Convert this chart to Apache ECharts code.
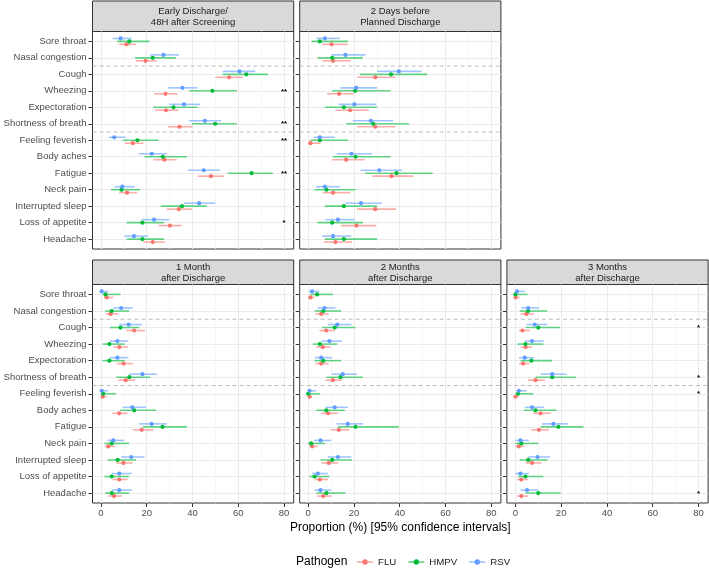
<!DOCTYPE html>
<html><head><meta charset="utf-8">
<script src="https://cdn.jsdelivr.net/npm/echarts@6/dist/echarts.min.js"></script>
<style>html,body{margin:0;padding:0;background:#fff}#c{width:709px;height:569px}</style>
</head><body><div id="c"></div>
<script>
const SYMPTOMS = ['Sore throat','Nasal congestion','Cough','Wheezing','Expectoration','Shortness of breath','Feeling feverish','Body aches','Fatigue','Neck pain','Interrupted sleep','Loss of appetite','Headache'];
const PATHOGENS = ['FLU','HMPV','RSV'];
const PANEL_TITLES = ['Early Discharge/\n48H after Screening','2 Days before\nPlanned Discharge','1 Month\nafter Discharge','2 Months\nafter Discharge','3 Months\nafter Discharge'];
const X_TICKS = [0,20,40,60,80];
const X_MINOR = [10,30,50,70];

// [estimate, lower, upper] per symptom (same order as SYMPTOMS)
const early_FLU = [[11.2,8.0,15.3],[19.5,15.2,24.4],[56.0,50.0,62.0],[28.2,23.2,33.4],[28.4,23.6,33.8],[34.3,29.3,40.0],[13.9,10.4,18.5],[27.7,22.9,33.1],[48.0,42.2,53.8],[11.4,8.0,15.8],[34.0,28.7,39.7],[30.1,25.1,35.3],[22.6,18.5,28.0]];
const early_HMPV = [[12.4,7.1,21.2],[22.6,14.9,32.7],[63.5,53.1,72.9],[48.7,38.5,59.4],[31.7,22.9,42.2],[49.9,39.7,59.4],[15.9,9.5,25.1],[27.0,19.0,37.6],[65.8,55.3,75.1],[9.0,4.4,17.1],[35.4,26.1,46.2],[18.1,11.2,27.6],[18.1,11.2,27.6]];
const early_RSV = [[8.6,5.1,13.4],[27.3,21.4,34.1],[60.5,53.2,67.4],[35.6,29.2,42.3],[36.3,29.8,43.3],[45.4,38.4,52.5],[5.8,3.5,10.8],[22.2,16.6,28.7],[44.9,37.9,52.1],[9.3,6.0,14.7],[42.9,36.3,49.9],[23.2,17.8,29.8],[14.4,10.2,20.4]];

const pre_FLU = [[10.2,6.1,17.3],[10.9,6.4,18.5],[29.3,21.4,38.1],[13.5,8.3,19.9],[18.3,11.9,26.5],[29.3,21.4,38.1],[1.0,0.0,5.4],[16.6,10.5,24.7],[36.4,27.9,45.9],[10.9,6.4,18.5],[29.3,21.4,38.4],[21.1,14.4,29.7],[11.9,6.8,19.2]];
const pre_HMPV = [[5.1,1.5,17.3],[10.5,4.1,23.9],[36.2,22.6,52.0],[20.5,10.5,36.0],[15.6,7.3,30.1],[28.4,16.6,44.0],[5.1,1.0,17.3],[20.7,10.8,36.0],[38.6,25.0,54.4],[8.0,2.8,20.7],[15.6,7.3,30.1],[10.5,4.1,23.9],[15.6,7.3,30.1]];
const pre_RSV = [[7.3,3.5,13.8],[16.3,10.2,25.0],[39.6,30.1,49.5],[21.0,14.1,30.1],[20.2,13.4,29.8],[27.4,19.5,37.1],[5.1,2.5,11.6],[18.9,12.5,27.9],[31.1,22.9,41.0],[7.3,3.5,13.8],[23.1,16.3,32.3],[13.0,7.6,20.4],[10.9,6.1,18.8]];

const m1_FLU = [[2.5,1.3,5.4],[4.2,2.2,7.6],[14.5,11.0,19.3],[8.0,5.4,11.7],[9.9,6.9,13.9],[10.8,7.6,14.9],[0.7,0.0,2.5],[8.0,5.1,11.7],[17.8,13.9,23.0],[3.2,1.8,6.1],[9.8,6.6,13.9],[8.0,5.1,11.7],[5.7,3.2,9.1]];
const m1_HMPV = [[2.0,0.6,8.6],[4.7,1.8,12.3],[8.5,3.9,16.7],[3.7,0.7,10.4],[3.7,0.7,10.4],[12.4,6.6,21.5],[1.0,0.0,6.6],[14.5,8.3,24.1],[26.9,18.3,37.6],[4.7,1.5,12.3],[7.3,2.9,15.4],[4.7,1.5,12.3],[4.7,1.8,12.3]];
const m1_RSV = [[0.3,0.0,3.2],[8.8,5.4,13.9],[12.1,8.0,17.8],[7.2,3.9,12.0],[7.2,3.9,12.0],[18.1,12.3,24.4],[0.3,0.0,3.2],[13.7,9.4,19.7],[22.1,16.7,28.8],[5.4,2.8,10.1],[13.2,8.8,19.0],[8.0,4.7,13.5],[8.0,4.7,13.5]];

const m2_FLU = [[1.0,0.3,2.9],[5.7,3.2,9.0],[7.9,4.9,11.6],[6.4,3.6,9.8],[5.7,3.2,9.0],[10.8,7.6,14.8],[0.6,0.0,1.7],[8.7,5.7,13.1],[13.4,9.8,18.0],[1.7,0.6,4.2],[9.0,5.8,13.1],[5.1,2.8,8.7],[6.6,3.9,10.2]];
const m2_HMPV = [[3.9,1.0,10.9],[6.6,2.8,14.4],[11.6,6.1,20.7],[5.1,2.0,12.7],[6.6,2.8,14.4],[14.1,8.0,23.9],[0.0,0.0,5.1],[7.9,3.6,16.0],[20.7,13.0,39.6],[1.3,0.0,7.3],[10.5,5.4,19.2],[2.8,0.6,9.3],[8.0,3.6,16.3]];
const m2_RSV = [[1.7,0.3,4.9],[7.1,4.1,11.9],[12.7,8.6,18.9],[9.3,5.8,14.8],[5.7,2.9,10.5],[15.1,10.2,21.4],[0.6,0.0,3.6],[11.6,7.6,17.3],[17.3,12.4,24.0],[5.4,2.5,10.0],[13.0,8.6,18.8],[4.2,1.7,8.6],[5.4,2.8,10.0]];

const m3_FLU = [[0.1,0.0,1.9],[4.8,2.3,8.2],[3.1,1.6,6.3],[4.5,2.3,7.3],[3.4,1.6,6.0],[8.8,5.6,12.9],[0.0,0.0,1.5],[11.0,7.8,15.5],[10.3,7.0,14.7],[1.5,0.0,4.1],[7.3,4.4,11.4],[2.6,0.7,5.6],[2.6,0.7,5.6]];
const m3_HMPV = [[0.0,0.0,5.3],[5.6,1.9,13.9],[10.0,4.4,19.5],[4.4,0.9,12.2],[7.0,2.3,16.1],[16.1,8.8,26.4],[1.2,0.0,7.8],[8.8,3.8,18.0],[18.8,11.1,29.7],[2.6,0.1,10.0],[5.6,1.9,14.1],[4.4,1.2,12.2],[10.0,4.4,19.8]];
const m3_RSV = [[0.7,0.0,4.1],[5.6,2.6,10.4],[8.5,4.8,13.9],[7.3,4.1,12.6],[4.1,1.6,8.2],[16.1,11.0,22.4],[1.5,0.4,4.8],[7.3,4.1,12.6],[16.6,11.7,22.9],[2.2,0.1,5.9],[9.7,5.6,15.1],[2.2,0.1,5.9],[5.1,2.3,10.0]];

// significance markers per symptom
const SIG_EARLY = ['','','','**','','**','**','','**','','','*',''];
const SIG_PRE = [];
const SIG_M1 = [];
const SIG_M2 = [];
const SIG_M3 = ['','','*','','','*','*','','','','','','*'];
const SIG_X = 80;
const GROUP_BREAKS = [1.5, 5.5];

const PANELS = [
  {title: PANEL_TITLES[0], FLU: early_FLU, HMPV: early_HMPV, RSV: early_RSV, sig: SIG_EARLY},
  {title: PANEL_TITLES[1], FLU: pre_FLU, HMPV: pre_HMPV, RSV: pre_RSV, sig: SIG_PRE},
  {title: PANEL_TITLES[2], FLU: m1_FLU, HMPV: m1_HMPV, RSV: m1_RSV, sig: SIG_M1},
  {title: PANEL_TITLES[3], FLU: m2_FLU, HMPV: m2_HMPV, RSV: m2_RSV, sig: SIG_M2},
  {title: PANEL_TITLES[4], FLU: m3_FLU, HMPV: m3_HMPV, RSV: m3_RSV, sig: SIG_M3}
];

// ---- styling / layout ----
const COLORS = {FLU:'#F8766D', HMPV:'#00BA38', RSV:'#619CFF'};
const DODGE = {FLU:0.18, HMPV:0, RSV:-0.18};
const FONT = '"Liberation Sans", Arial, sans-serif';
const COL_LEFT = [92.5, 299.7, 506.9];
const PW = 201.2;
const ROWS = [{top:31.5, height:217.5, stripTop:1}, {top:284.5, height:218.5, stripTop:260}];
const POS = [[0,0],[0,1],[1,0],[1,1],[1,2]];
const XMIN = -3.7, XMAX = 84.2, YMIN = -0.6, YMAX = 12.6;
const IDX = SYMPTOMS.map((s,i)=>i);

const chart = echarts.init(document.getElementById('c'), null, {renderer:'canvas'});

const grids = [], xAxes = [], xMinor = [], yAxes = [], series = [], graphics = [];

function pointRender(color, off){
  return function(params, api){
    const c = api.value(3) + off;
    const a = api.coord([api.value(1), c]);
    const b = api.coord([api.value(2), c]);
    const m = api.coord([api.value(0), c]);
    return {type:'group', children:[
      {type:'line', shape:{x1:a[0], y1:a[1], x2:b[0], y2:b[1]}, style:{stroke:color, lineWidth:1.6, opacity:0.6}},
      {type:'circle', shape:{cx:m[0], cy:m[1], r:2.1}, style:{fill:color}}
    ]};
  };
}

PANELS.forEach((p, i) => {
  const [r, c] = POS[i];
  const row = ROWS[r];
  const left = COL_LEFT[c];
  const bottomRow = r === 1;
  const firstCol = c === 0;
  grids.push({left:left, top:row.top, width:PW, height:row.height, show:true,
    borderColor:'#333333', borderWidth:1, backgroundColor:'rgba(0,0,0,0)'});
  xAxes.push({gridIndex:i, type:'value', min:XMIN, max:XMAX, position:'bottom',
    axisLine:{show:false, onZero:false},
    axisTick:{show:bottomRow, customValues:X_TICKS, length:4, lineStyle:{color:'#333333'}},
    axisLabel:{show:bottomRow, customValues:X_TICKS, color:'#4D4D4D', fontSize:9.5, fontFamily:FONT, margin:5},
    splitLine:{show:true, lineStyle:{color:'#EBEBEB', width:1}}});
  xMinor.push({gridIndex:i, type:'value', min:XMIN, max:XMAX, position:'top',
    axisLine:{show:false, onZero:false},
    axisTick:{show:false, customValues:X_MINOR},
    axisLabel:{show:false, customValues:X_MINOR},
    splitLine:{show:true, lineStyle:{color:'#F4F4F4', width:0.7}}});
  yAxes.push({gridIndex:i, type:'value', inverse:true, min:YMIN, max:YMAX, position:'left',
    axisLine:{show:false, onZero:false},
    axisTick:{show:true, customValues:IDX, length:4, lineStyle:{color:'#333333'}},
    axisLabel:{show:firstCol, customValues:IDX, formatter:(v)=>SYMPTOMS[Math.round(v)], color:'#4D4D4D', fontSize:9.5, fontFamily:FONT, margin:6},
    splitLine:{show:true, lineStyle:{color:'#EBEBEB', width:1.2}}});

  // group separators
  series.push({type:'custom', xAxisIndex:i, yAxisIndex:i, silent:true, z:1, clip:false,
    data: GROUP_BREAKS.map(b=>[0,b]), encode:{x:0, y:1},
    renderItem:(params, api)=>{
      const y = api.coord([0, api.value(1)])[1];
      const cs = params.coordSys;
      return {type:'line', shape:{x1:cs.x, y1:y, x2:cs.x+cs.width, y2:y},
        style:{stroke:'#BDBDBD', lineWidth:1, lineDash:[4,3]}};
    }});

  PATHOGENS.forEach(k => {
    series.push({type:'custom', name:k, xAxisIndex:i, yAxisIndex:i, z:3, clip:false,
      itemStyle:{color:COLORS[k]},
      data: p[k].map((d, j)=>[d[0], d[1], d[2], j]),
      encode:{x:[0,1,2], y:3},
      renderItem: pointRender(COLORS[k], DODGE[k])});
  });

  const sigs = p.sig.map((s,j)=>({s:s, j:j})).filter(o=>o.s);
  if (sigs.length){
    series.push({type:'custom', xAxisIndex:i, yAxisIndex:i, silent:true, z:4, clip:false,
      data: sigs.map(o=>[SIG_X, o.j]), encode:{x:0, y:1},
      renderItem:(params, api)=>{
        const pt = api.coord([api.value(0), api.value(1)]);
        return {type:'text', x:pt[0], y:pt[1]+0.5,
          style:{text:sigs[params.dataIndex].s, fill:'#000000', fontSize:8, fontWeight:'bold', fontFamily:FONT, align:'center', verticalAlign:'middle'}};
      }});
  }

  // strip
  const sTop = row.stripTop, sH = row.top - row.stripTop;
  graphics.push({type:'rect', shape:{x:left, y:sTop, width:PW, height:sH},
    style:{fill:'#D9D9D9', stroke:'#333333', lineWidth:1}});
  graphics.push({type:'text', x:left+PW/2, y:sTop+sH/2+0.5,
    style:{text:p.title, fill:'#1A1A1A', fontSize:9.5, fontFamily:FONT, align:'center', verticalAlign:'middle', lineHeight:11}});
});

graphics.push({type:'text', x:400.3, y:528, style:{text:'Proportion (%) [95% confidence intervals]', fill:'#000', fontSize:12, fontFamily:FONT, align:'center', verticalAlign:'middle'}});
graphics.push({type:'text', x:296, y:562, style:{text:'Pathogen', fill:'#000', fontSize:12, fontFamily:FONT, align:'left', verticalAlign:'middle'}});

const option = {
  animation:false,
  backgroundColor:'#ffffff',
  grid: grids,
  xAxis: xAxes.concat(xMinor),
  yAxis: yAxes,
  series: series,
  graphic: graphics,
  legend: {data: PATHOGENS, left:352, top:552, orient:'horizontal', itemWidth:16, itemHeight:10, itemGap:12,
    icon:'path://M0,4.4h16v1.2H0z M8,2.3a2.7,2.7 0 1 1 -0.01,0z',
    textStyle:{fontSize:9.7, fontFamily:FONT, color:'#1A1A1A'}}
};
chart.setOption(option);
</script></body></html>
